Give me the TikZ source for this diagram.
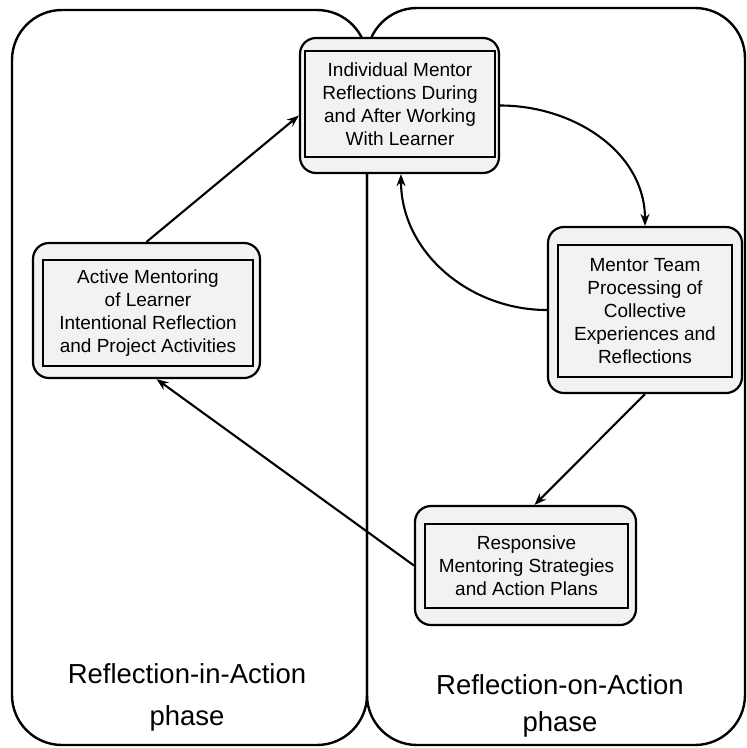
\documentclass[tikz,border=0pt]{standalone}
\usepackage{fontspec}
\setmainfont{Liberation Sans}
\usetikzlibrary{arrows.meta,calc}

\tikzset{
  phasebox/.style={draw, line width=2.4pt, rounded corners=50pt, inner sep=0pt},
  outerbox/.style={draw, line width=2.2pt, rounded corners=16pt, fill=gray!10, inner sep=0pt},
  innerbox/.style={draw, line width=2pt, fill=gray!10, inner sep=0pt, align=center,
                   font=\fontsize{19}{23}\selectfont},
  phaselabel/.style={align=center, inner sep=0pt},
  flow/.style={line width=2.1pt, -{Stealth[length=12pt,width=9pt]}}
}

\begin{document}
\begin{tikzpicture}[x=1pt, y=-1pt]
  \useasboundingbox (0,0) rectangle (747,748);

  % the two phase regions
  \node[phasebox, minimum width=355pt, minimum height=735pt] (inphase) at (189.5,377.5) {};
  \node[phasebox, minimum width=378pt, minimum height=737pt] (onphase) at (556,376.5) {};

  \node[phaselabel, font=\fontsize{27.5}{42}\selectfont] (inlbl) at (187,697)
    {Reflection-in-Action\\phase};
  \node[phaselabel, font=\fontsize{27.5}{37}\selectfont] (onlbl) at (560,706)
    {Reflection-on-Action\\phase};

  % individual mentor reflections
  \node[outerbox, minimum width=199pt, minimum height=135pt] (indO) at (399.5,105.5) {};
  \node[innerbox, minimum width=190pt, minimum height=106pt] (ind) at (400,104)
    {Individual Mentor\\Reflections During\\and After Working\\With Learner};

  % active mentoring
  \node[outerbox, minimum width=227pt, minimum height=135pt] (actO) at (146.5,310.5) {};
  \node[innerbox, minimum width=210pt, minimum height=106pt] (act) at (148,313)
    {Active Mentoring\\of Learner\\Intentional Reflection\\and Project Activities};

  % mentor team processing
  \node[outerbox, minimum width=194pt, minimum height=166pt] (mtO) at (645,310) {};
  \node[innerbox, minimum width=174pt, minimum height=132pt] (mt) at (645,311)
    {Mentor Team\\Processing of\\Collective\\Experiences and\\Reflections};

  % responsive strategies
  \node[outerbox, minimum width=221pt, minimum height=119pt] (rsO) at (525.5,565.5) {};
  \node[innerbox, minimum width=203pt, minimum height=84pt] (rs) at (526.5,566)
    {Responsive\\Mentoring Strategies\\and Action Plans};

  % cycle connectors
  \draw[flow] (actO.north) -- ([yshift=-10pt]indO.west);
  \draw[flow] (indO.east) to[out=0, in=90] (mtO.north);
  \draw[flow] (mtO.west) to[out=180, in=-90] ([xshift=1.5pt]indO.south);
  \draw[flow] (mtO.south) -- ([xshift=9pt]rsO.north);
  \draw[flow] (rsO.west) -- ([xshift=10pt]actO.south);
\end{tikzpicture}
\end{document}
